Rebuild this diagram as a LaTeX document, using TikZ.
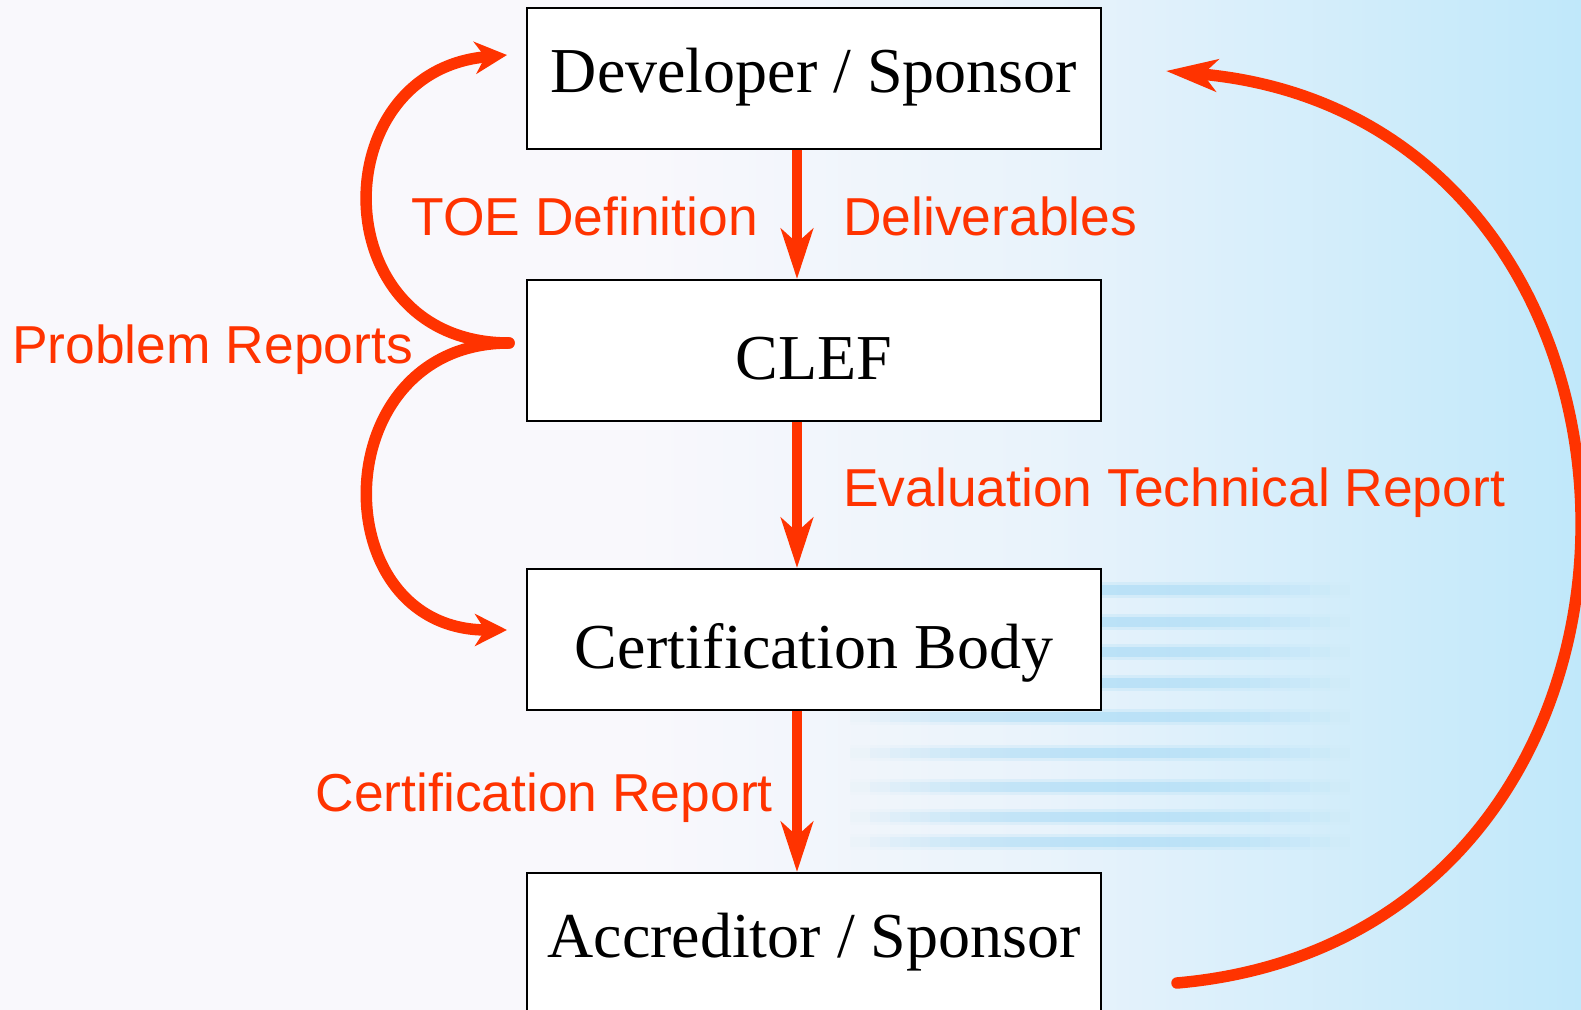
\documentclass[tikz,border=0pt]{standalone}
\usepackage{fontspec}
\setmainfont{Liberation Serif}
\newfontfamily\labelfont{Liberation Sans}
\usetikzlibrary{arrows.meta}

\definecolor{flowred}{RGB}{255,51,0}
\definecolor{bgleft}{RGB}{249,248,252}
\definecolor{bgmid}{RGB}{233,243,251}
\definecolor{bgright}{RGB}{192,232,250}
\definecolor{stripeblue}{RGB}{150,212,244}
\pgfdeclarehorizontalshading{backdrop}{100bp}{color(0bp)=(bgleft); color(25bp)=(bgleft); color(45bp)=(bgleft); color(58bp)=(bgmid); color(75bp)=(bgright); color(100bp)=(bgright)}

\tikzset{
  party/.style={draw=black, line width=2pt, fill=white, minimum width=574pt, minimum height=141pt,
    inner sep=0pt, font=\fontsize{64}{70}\selectfont, text height=44pt, text depth=16pt},
  flow/.style={draw=flowred, line width=10.5pt, -{Stealth[length=50pt,width=32pt,inset=14pt]}},
  feedback/.style={draw=flowred, line width=11.5pt, line cap=round, -{Stealth[length=32pt,width=32pt,inset=10pt]}},
  lbl/.style={text=flowred, font=\labelfont\fontsize{53.4}{60}\selectfont, inner sep=0pt}
}

\begin{document}
\begin{tikzpicture}[x=1pt,y=1pt]
\useasboundingbox (0,0) rectangle (1581,1009);
% backdrop
\shade[shading=backdrop] (0,0) rectangle (1581,1009);
\foreach \y in {419,387,357,326,292,256,222,192,167}{
  \foreach \k in {0,...,24}{
    \pgfmathsetmacro\op{0.4*sin(180*(\k+0.5)/25)}
    \fill[stripeblue, opacity=\op] (850+20*\k,\y-5) rectangle (870+20*\k,\y+5);
    \fill[stripeblue, opacity=\op*0.5] (850+20*\k,\y-8) rectangle (870+20*\k,\y+8);
  }
}

% the four parties
\node[party] (dev) at (814,930.5) {Developer / Sponsor};
\node[party, text height=58pt, text depth=0pt] (clef) at (814,658.5) {CLEF};
\node[party, text height=58pt, text depth=0pt] (cb) at (814,369.5) {Certification Body};
\node[party] (acc) at (814,65.5) {Accreditor / Sponsor};

% main flow
\draw[flow] ([xshift=-17pt]dev.south) -- ([xshift=-17pt]clef.north);
\draw[flow] ([xshift=-17pt]clef.south) -- ([xshift=-17pt]cb.north);
\draw[flow] ([xshift=-17pt]cb.south) -- ([xshift=-17pt]acc.north);

\node[lbl, anchor=base east] (toe) at (758,773) {TOE Definition};
\node[lbl, anchor=base west] (deliv) at (843,773) {Deliverables};
\node[lbl, anchor=base west] (etr) at (843,502) {Evaluation Technical Report};
\node[lbl, anchor=base east] (certrep) at (773,197) {Certification Report};
\node[lbl, anchor=base west] (prob) at (12,645) {Problem Reports};

% problem reports go back and forward
\coordinate (fork) at (509,666);
\coordinate (devin) at (507,954);
\coordinate (cbin) at (507,379);
\draw[feedback] (fork) to[out=180,in=185,looseness=1.65] (devin);
\draw[feedback] (fork) to[out=180,in=180,looseness=1.65] (cbin);

% accreditor back to sponsor
\coordinate (accout) at (1177,26);
\coordinate (devback) at (1166,938);
\draw[feedback, -{Stealth[length=51pt,width=32pt,inset=14pt]}] (accout) to[out=5,in=-5,looseness=1.52] (devback);
\end{tikzpicture}
\end{document}
